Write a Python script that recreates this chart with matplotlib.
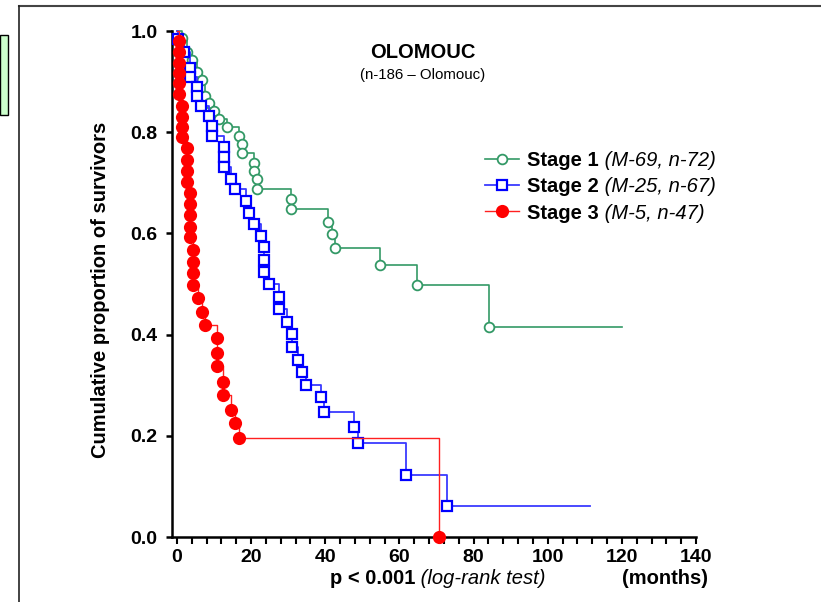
import matplotlib
matplotlib.use('Agg')
import matplotlib.pyplot as plt
from matplotlib.lines import Line2D
from matplotlib.patches import Rectangle
from matplotlib.ticker import MultipleLocator

plt.rcParams['font.family'] = ['Liberation Sans', 'DejaVu Sans']

# Kaplan-Meier curves: time of each step (months) and survival after the step
s1_time = [1.3, 2.7, 4.0, 5.4, 6.7, 7.6, 8.6, 10.0, 11.3, 13.5, 16.7, 17.5, 17.5,
           20.8, 20.8, 21.6, 21.6, 30.8, 30.8, 40.7, 41.8, 42.6, 54.8, 64.7, 84.2]
s1_surv = [0.986, 0.958, 0.943, 0.919, 0.903, 0.872, 0.858, 0.842, 0.826, 0.810,
           0.792, 0.777, 0.759, 0.739, 0.723, 0.708, 0.688, 0.668, 0.648, 0.623,
           0.599, 0.571, 0.538, 0.498, 0.415]
s1_end = 120

s2_time = [0.3, 1.9, 3.5, 3.5, 5.4, 5.4, 6.5, 8.6, 9.4, 9.4, 12.7, 12.7, 12.7,
           14.6, 15.6, 18.6, 19.4, 20.8, 22.7, 23.5, 23.5, 23.5, 24.8, 27.5, 27.5,
           29.7, 31.0, 31.0, 32.6, 33.7, 34.8, 38.8, 39.7, 47.7, 48.8, 61.8, 72.8]
s2_surv = [0.985, 0.958, 0.927, 0.909, 0.889, 0.872, 0.852, 0.832, 0.812, 0.792,
           0.771, 0.751, 0.731, 0.708, 0.688, 0.664, 0.640, 0.619, 0.595, 0.573,
           0.547, 0.524, 0.500, 0.474, 0.451, 0.425, 0.401, 0.375, 0.350, 0.326,
           0.300, 0.277, 0.247, 0.217, 0.186, 0.123, 0.061]
s2_end = 111.5

s3_time = [0.5, 0.5, 0.5, 0.5, 0.5, 0.5, 1.3, 1.3, 1.3, 1.3, 2.7, 2.7, 2.7, 2.7,
           3.5, 3.5, 3.5, 3.5, 3.5, 4.3, 4.3, 4.3, 4.3, 5.7, 6.7, 7.6,
           10.8, 10.8, 10.8, 12.4, 12.4, 14.6, 15.6, 16.7, 70.7]
s3_surv = [0.980, 0.958, 0.937, 0.917, 0.897, 0.875, 0.852, 0.830, 0.810, 0.791,
           0.769, 0.745, 0.723, 0.702, 0.680, 0.658, 0.636, 0.613, 0.593, 0.567,
           0.543, 0.522, 0.498, 0.472, 0.445, 0.419, 0.393, 0.364, 0.338, 0.306,
           0.281, 0.251, 0.225, 0.196, 0.0]
s3_end = 70.7

stage_labels = ['Stage 1', 'Stage 2', 'Stage 3']
stage_notes = ['(M-69, n-72)', '(M-25, n-67)', '(M-5, n-47)']
yticks = [0.0, 0.2, 0.4, 0.6, 0.8, 1.0]
ytick_labels = ['0.0', '0.2', '0.4', '0.6', '0.8', '1.0']
xticks = [0, 20, 40, 60, 80, 100, 120, 140]

fig = plt.figure(figsize=(8.21, 6.02), dpi=100)
ax = fig.add_axes([172 / 821, 1 - 537 / 602, 524 / 821, 506 / 602])

series = [
    (s1_time, s1_surv, s1_end, dict(color='#339966', lw=1.2),
     dict(marker='o', ms=7, mfc='white', mec='#339966', mew=1.3)),
    (s2_time, s2_surv, s2_end, dict(color='#3a3aff', lw=1.3),
     dict(marker='s', ms=7.5, mfc='white', mec='#0000ff', mew=1.6)),
    (s3_time, s3_surv, s3_end, dict(color='#ff2020', lw=1.0),
     dict(marker='o', ms=9.5, mfc='#ff0000', mec='#ff0000', mew=0)),
]

handles = []
for z, (t, s, end, lstyle, mstyle) in enumerate(series):
    xs = [0] + t + [end]
    ys = [1.0] + s + [s[-1]]
    ax.step(xs, ys, where='post', zorder=2 + z, clip_on=False, **lstyle)
    ax.plot(t, s, ls='none', zorder=2.5 + z, clip_on=False, **mstyle)
    handles.append(Line2D([], [], **lstyle, **mstyle))

ax.set_xlim(-1.35, 140)
ax.set_ylim(0, 1.0)
ax.set_xticks(xticks)
ax.xaxis.set_minor_locator(MultipleLocator(4))
ax.set_yticks(yticks, labels=ytick_labels)

for side in ['top', 'right']:
    ax.spines[side].set_visible(False)
for side in ['left', 'bottom']:
    ax.spines[side].set_linewidth(1.8)

ax.tick_params(axis='y', direction='out', length=4.5, width=1.8, pad=6, labelsize=14)
ax.tick_params(axis='x', which='both', direction='out', length=5, width=1.5, pad=4,
               labelsize=14)
for lbl in ax.get_xticklabels() + ax.get_yticklabels():
    lbl.set_fontweight('bold')

ax.text(0.479, 0.958, 'OLOMOUC', transform=ax.transAxes, ha='center', va='center',
        fontsize=14.5, fontweight='bold')
ax.text(0.479, 0.913, '(n-186 \u2013 Olomouc)', transform=ax.transAxes, ha='center',
        va='center', fontsize=10.8)

leg = ax.legend(handles, stage_labels, loc='upper left', bbox_to_anchor=(0.597, 0.762),
                frameon=False, borderpad=0, borderaxespad=0, handlelength=1.7,
                handletextpad=0.4, labelspacing=0.35, numpoints=1,
                prop=dict(size=14.5, weight='bold'))
for txt, note in zip(leg.get_texts(), stage_notes):
    ax.annotate(' ' + note, xy=(1, 0), xycoords=txt, va='bottom', ha='left',
                fontsize=14.5, style='italic', zorder=6)

fig.text(101 / 821, 1 - 290 / 602, 'Cumulative proportion of survivors', rotation=90,
         ha='center', va='center', fontsize=14.5, fontweight='bold')

p_txt = fig.text(330 / 821, 1 - 578 / 602, 'p < 0.001', ha='left', va='center',
                 fontsize=14.5, fontweight='bold')
ax.annotate(' (log-rank test)', xy=(1, 0), xycoords=p_txt, va='bottom', ha='left',
            fontsize=14.5, style='italic', annotation_clip=False)
fig.text(708 / 821, 1 - 578 / 602, '(months)', ha='right', va='center', fontsize=14.5,
         fontweight='bold')

# outer frame and the small box at the left edge
fig.add_artist(Line2D([19 / 821, 1], [1 - 5.5 / 602] * 2, color='#444444', lw=1.5))
fig.add_artist(Line2D([19 / 821] * 2, [0, 1 - 5.5 / 602], color='#222222', lw=1.2))
fig.add_artist(Rectangle((0, 1 - 115 / 602), 8 / 821, 80 / 602, transform=fig.transFigure,
                         facecolor='#ccffcc', edgecolor='black', lw=1))

fig.savefig('out.png', dpi=100)
